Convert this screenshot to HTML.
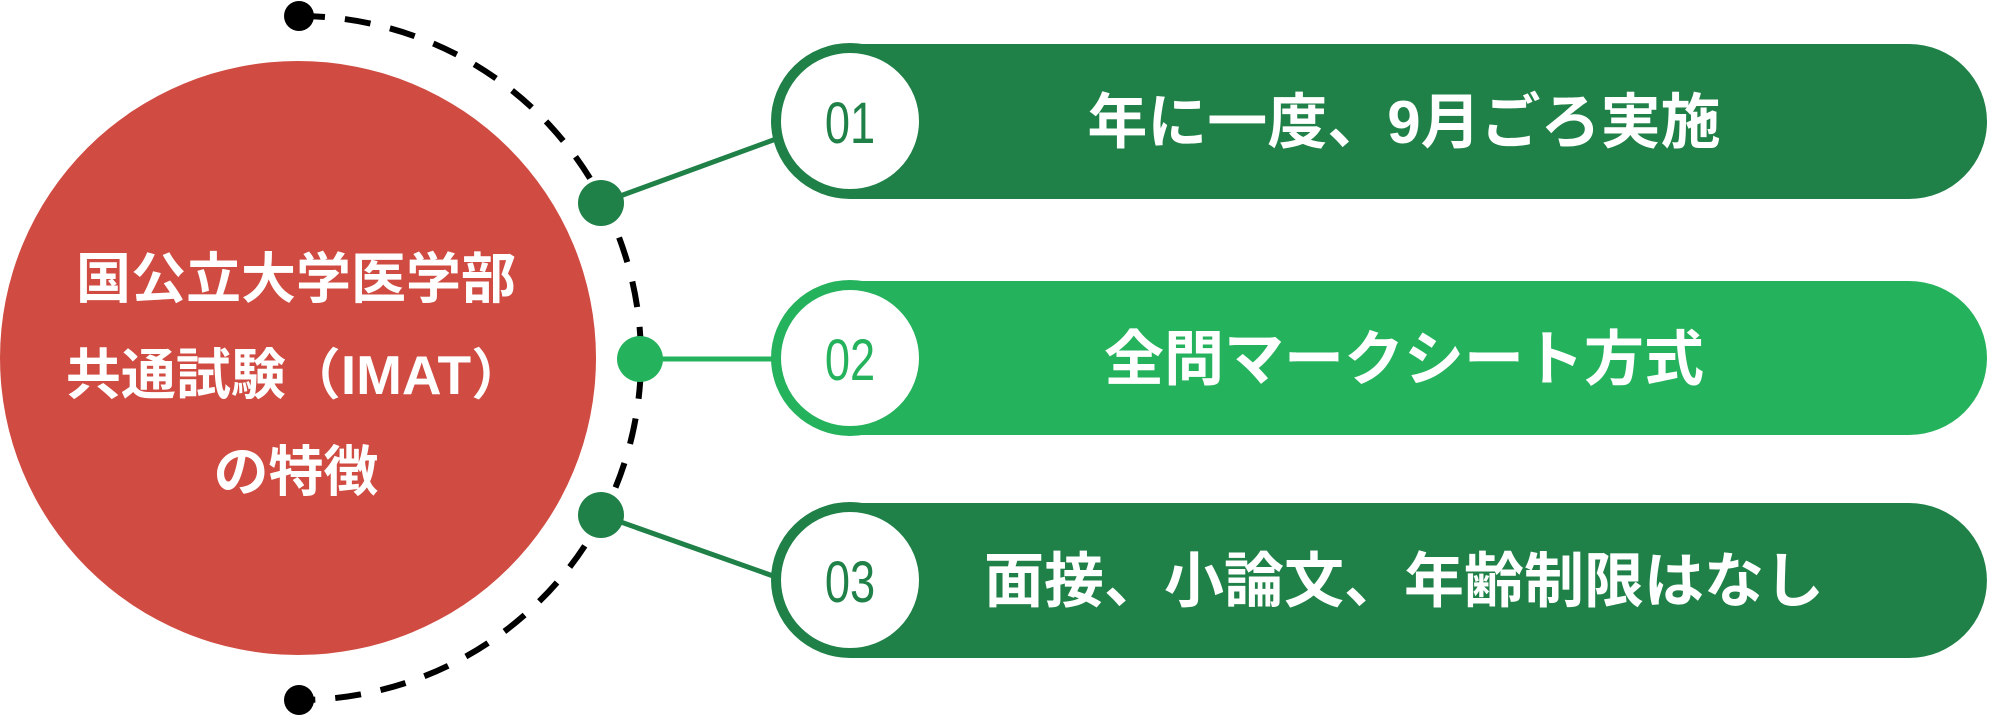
<!DOCTYPE html>
<html><head><meta charset="utf-8"><style>
html,body{margin:0;padding:0;background:#fff;width:1992px;height:717px;overflow:hidden}
svg{display:block}
text{font-family:"Liberation Sans","Noto Sans CJK JP",sans-serif}
</style></head><body>
<svg width="1992" height="717" viewBox="0 0 1992 717" xmlns="http://www.w3.org/2000/svg">
<path d="M299,16 A342,342 0 0 1 299,700" fill="none" stroke="#000" stroke-width="6" stroke-dasharray="26,20"/>
<circle cx="299" cy="16" r="15" fill="#000"/>
<circle cx="299" cy="700" r="15" fill="#000"/>
<ellipse cx="298" cy="358" rx="298" ry="297" fill="#d04b41"/>
<g fill="#fff" font-weight="bold" font-size="55" text-anchor="middle">
<text x="296" y="298">国公立大学医学部</text>
<text x="296" y="394">共通試験（IMAT）</text>
<text x="296" y="491">の特徴</text>
</g>
<path d="M850,44 H1909 A78,77.5 0 0 1 1909,199 H850 Z" fill="#1f8147"/>
<path d="M850,281 H1909 A78,77 0 0 1 1909,435 H850 Z" fill="#25b25c"/>
<path d="M850,503 H1909 A78,77.5 0 0 1 1909,658 H850 Z" fill="#1f8147"/>
<line x1="601" y1="203" x2="776" y2="139" stroke="#1f8147" stroke-width="5"/>
<line x1="640" y1="359" x2="776" y2="359" stroke="#25b25c" stroke-width="5"/>
<line x1="601" y1="515" x2="776" y2="577" stroke="#1f8147" stroke-width="5"/>
<circle cx="601" cy="203" r="23" fill="#1f8147"/>
<circle cx="640" cy="359" r="23" fill="#25b25c"/>
<circle cx="601" cy="515" r="23" fill="#1f8147"/>
<ellipse cx="850" cy="121" rx="74" ry="73" fill="#fff" stroke="#1f8147" stroke-width="10"/>
<ellipse cx="850" cy="358" rx="74" ry="73" fill="#fff" stroke="#25b25c" stroke-width="10"/>
<ellipse cx="850" cy="580" rx="74" ry="73" fill="#fff" stroke="#1f8147" stroke-width="10"/>
<g font-size="58" text-anchor="middle">
<text transform="translate(850,143) scale(0.78,1)" fill="#1f8147">01</text>
<text transform="translate(850,380) scale(0.78,1)" fill="#25b25c">02</text>
<text transform="translate(850,602) scale(0.78,1)" fill="#1f8147">03</text>
</g>
<g fill="#fff" font-weight="bold" font-size="60" text-anchor="middle">
<text x="1404" y="143">年に一度、9月ごろ実施</text>
<text x="1404" y="380">全問マークシート方式</text>
<text x="1404" y="602">面接、小論文、年齢制限はなし</text>
</g>
</svg>
</body></html>
